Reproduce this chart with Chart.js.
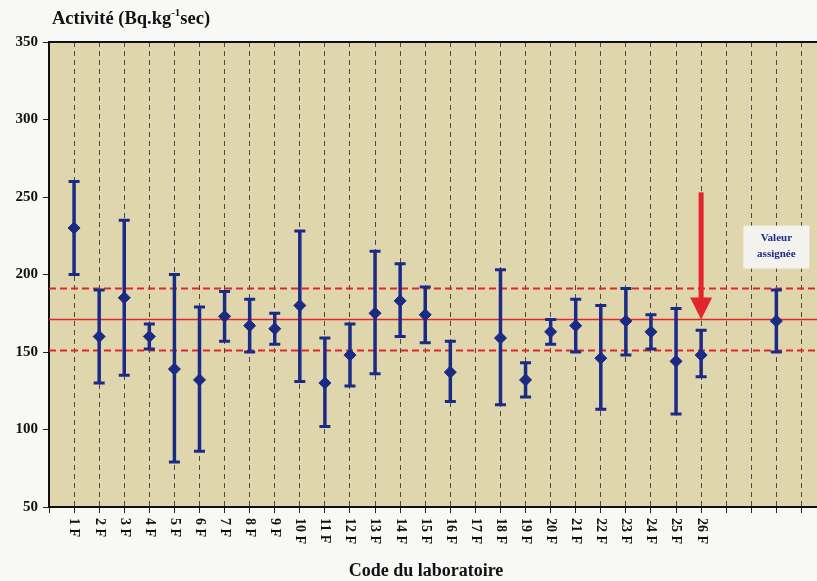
<!DOCTYPE html>
<html>
<head>
<meta charset="utf-8">
<script src="https://cdn.jsdelivr.net/npm/chart.js@4/dist/chart.umd.min.js"></script>
<style>
  html, body { margin: 0; padding: 0; background: #f8f8f6; overflow: hidden; }
  #wrap { width: 817px; height: 581px; position: relative; }
</style>
</head>
<body>
<div id="wrap"><canvas id="chart" width="817" height="581"></canvas></div>
<script>
// laboratory codes (x = 1..26)
const labLabels = ["1 F","2 F","3 F","4 F","5 F","6 F","7 F","8 F","9 F","10 F","11 F","12 F","13 F",
  "14 F","15 F","16 F","17 F","18 F","19 F","20 F","21 F","22 F","23 F","24 F","25 F","26 F"];
const labMean = [230,160,185,160,139,132,173,167,165,180,130,148,175,183,174,137,null,159,132,163,167,146,170,163,144,148];
const labLow  = [200,130,135,152, 79, 86,157,150,155,131,102,128,136,160,156,118,null,116,121,155,150,113,148,152,110,134];
const labHigh = [260,190,235,168,200,179,189,184,175,228,159,168,215,207,192,157,null,203,143,171,184,180,191,174,178,164];

// assigned value
const refPos = 29;
const refMean = 170;
const refLow = 150;
const refHigh = 190;
const refText = ["Valeur", "assignée"];
const refTextY = 218;

// reference lines
const lineCenter = 171;
const lineUpper = 191;
const lineLower = 151;

// arrow pointing at lab 26
const arrowPos = 26;
const arrowFrom = 253;
const arrowTo = 171;

const yTicks = [50, 100, 150, 200, 250, 300, 350];
const xMax = 30.62;

const navy = "#1b2a84";
const red = "#e3262b";

const points = [];
labMean.forEach(function (v, i) {
  if (v !== null) points.push({ x: i + 1, y: v });
});
points.push({ x: refPos, y: refMean });

const bars = [];
labMean.forEach(function (v, i) {
  if (v !== null) bars.push({ x: i + 1, lo: labLow[i], hi: labHigh[i] });
});
bars.push({ x: refPos, lo: refLow, hi: refHigh });

const extras = {
  id: "extras",
  beforeDraw(chart) {
    const a = chart.chartArea, ctx = chart.ctx;
    ctx.save();
    ctx.fillStyle = "#dfd6ae";
    ctx.fillRect(a.left, a.top, a.right - a.left, a.bottom - a.top);
    ctx.restore();
  },
  beforeDatasetDraw(chart, args) {
    if (args.index !== 0) return;
    const xs = chart.scales.x, ys = chart.scales.y, ctx = chart.ctx;
    ctx.save();
    ctx.strokeStyle = navy;
    ctx.lineCap = "butt";
    bars.forEach(function (b) {
      const px = xs.getPixelForValue(b.x);
      const top = ys.getPixelForValue(b.hi);
      const bot = ys.getPixelForValue(b.lo);
      ctx.lineWidth = 3.5;
      ctx.beginPath();
      ctx.moveTo(px, top);
      ctx.lineTo(px, bot);
      ctx.stroke();
      ctx.lineWidth = 3;
      ctx.beginPath();
      ctx.moveTo(px - 5.5, top);
      ctx.lineTo(px + 5.5, top);
      ctx.moveTo(px - 5.5, bot);
      ctx.lineTo(px + 5.5, bot);
      ctx.stroke();
    });
    ctx.restore();
  },
  afterDatasetsDraw(chart) {
    const xs = chart.scales.x, ys = chart.scales.y, ctx = chart.ctx;
    const a = chart.chartArea;
    ctx.save();
    // top border
    ctx.strokeStyle = "#111";
    ctx.lineWidth = 2;
    ctx.beginPath();
    ctx.moveTo(a.left, a.top);
    ctx.lineTo(a.right, a.top);
    ctx.stroke();

    // arrow
    const ax = xs.getPixelForValue(arrowPos);
    const ay1 = ys.getPixelForValue(arrowFrom);
    const ay2 = ys.getPixelForValue(arrowTo);
    ctx.fillStyle = red;
    ctx.fillRect(ax - 2.5, ay1, 5, ay2 - ay1 - 20);
    ctx.beginPath();
    ctx.moveTo(ax - 11, ay2 - 22);
    ctx.lineTo(ax + 11, ay2 - 22);
    ctx.lineTo(ax, ay2);
    ctx.closePath();
    ctx.fill();

    // assigned value box
    const bx = xs.getPixelForValue(refPos);
    const by = ys.getPixelForValue(refTextY);
    ctx.fillStyle = "#f3f2ee";
    ctx.fillRect(bx - 33, by - 21, 66, 43);
    ctx.fillStyle = navy;
    ctx.font = "bold 11px 'Liberation Serif'";
    ctx.textAlign = "center";
    ctx.textBaseline = "middle";
    ctx.fillText(refText[0], bx, by - 8);
    ctx.fillText(refText[1], bx, by + 8);
    ctx.restore();
  },
  afterDraw(chart) {
    const xs = chart.scales.x, ctx = chart.ctx;
    const a = chart.chartArea;
    ctx.save();
    ctx.fillStyle = "#111";
    // rotated lab labels
    ctx.font = "bold 14px 'Liberation Serif'";
    ctx.textAlign = "left";
    ctx.textBaseline = "middle";
    labLabels.forEach(function (lbl, i) {
      ctx.save();
      ctx.translate(xs.getPixelForValue(i + 1), a.bottom + 11);
      ctx.rotate(Math.PI / 2);
      ctx.fillText(lbl, 0, 0);
      ctx.restore();
    });
    // axis titles
    ctx.textBaseline = "alphabetic";
    ctx.font = "bold 18.5px 'Liberation Serif'";
    let tx = 52;
    const part1 = "Activité (Bq.kg";
    ctx.fillText(part1, tx, 24);
    tx += ctx.measureText(part1).width;
    ctx.font = "bold 11px 'Liberation Serif'";
    ctx.fillText("-1", tx, 16);
    tx += ctx.measureText("-1").width;
    ctx.font = "bold 18.5px 'Liberation Serif'";
    ctx.fillText("sec)", tx, 24);

    ctx.font = "bold 18px 'Liberation Serif'";
    ctx.textAlign = "center";
    ctx.fillText("Code du laboratoire", 426, 576);
    ctx.restore();
  }
};

new Chart(document.getElementById("chart"), {
  type: "scatter",
  data: {
    datasets: [
      {
        data: points,
        pointStyle: "rectRot",
        pointRadius: 6,
        pointBackgroundColor: navy,
        pointBorderColor: navy,
        order: 0
      },
      {
        type: "line",
        data: [{ x: 0, y: lineCenter }, { x: 31, y: lineCenter }],
        borderColor: red,
        borderWidth: 1.5,
        pointRadius: 0,
        order: 2
      },
      {
        type: "line",
        data: [{ x: 0, y: lineUpper }, { x: 31, y: lineUpper }],
        borderColor: red,
        borderWidth: 2,
        borderDash: [7, 4],
        pointRadius: 0,
        order: 2
      },
      {
        type: "line",
        data: [{ x: 0, y: lineLower }, { x: 31, y: lineLower }],
        borderColor: red,
        borderWidth: 2,
        borderDash: [7, 4],
        pointRadius: 0,
        order: 2
      }
    ]
  },
  options: {
    responsive: false,
    animation: false,
    events: [],
    layout: { autoPadding: false, padding: { top: 42, right: 0, left: 0, bottom: 0 } },
    plugins: {
      legend: { display: false },
      tooltip: { enabled: false }
    },
    scales: {
      x: {
        type: "linear",
        min: 0,
        max: xMax,
        afterFit: function (s) { s.height = 74; s.paddingRight = 0; s.paddingLeft = 0; },
        ticks: { stepSize: 1, includeBounds: false, display: false },
        grid: { color: "#4a4a40", lineWidth: 1, tickLength: 6, tickColor: "#222" },
        border: { display: true, color: "#111", width: 2, dash: [5, 4] }
      },
      y: {
        min: 50,
        max: 350,
        afterFit: function (s) { s.width = 49; },
        afterBuildTicks: function (s) { s.ticks = yTicks.map(function (v) { return { value: v }; }); },
        ticks: {
          padding: 5,
          color: "#111",
          font: { family: "'Liberation Serif'", size: 15, weight: "bold" }
        },
        grid: { drawOnChartArea: false, tickLength: 6, tickColor: "#222" },
        border: { display: true, color: "#111", width: 2 }
      }
    }
  },
  plugins: [extras]
});
</script>
</body>
</html>
